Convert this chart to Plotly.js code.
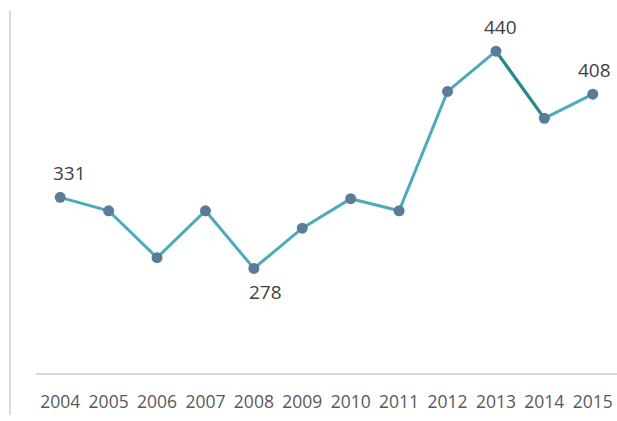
<!DOCTYPE html>
<html><head><meta charset="utf-8">
<script src="https://cdn.plot.ly/plotly-3.0.1.min.js"></script>
<style>html,body{margin:0;padding:0;background:#fff;}#c{width:617px;height:421px;}</style>
</head><body><div id="c"></div>
<script>
const years = ['2004','2005','2006','2007','2008','2009','2010','2011','2012','2013','2014','2015'];
const values = [331, 321, 286, 321, 278, 308, 330, 321, 410, 440, 390, 408];
const labeled = [true, false, false, false, true, false, false, false, false, true, false, true];
const labelBelow = [false, false, false, false, true, false, false, false, false, false, false, false];
const highlightYears = ['2013','2014'];
// label horizontal nudges (style only)
const labelXShift = [9, 0, 0, 0, 12, 0, 0, 0, 0, 5, 0, 2];

const hlVals = highlightYears.map(y => values[years.indexOf(y)]);

const font = "'Open Sans', 'DejaVu Sans', sans-serif";
const data = [
  {x: years, y: values, type:'scatter', mode:'lines', line:{color:'#4aacb8', width:3}, hoverinfo:'skip'},
  {x: highlightYears, y: hlVals, type:'scatter', mode:'lines', line:{color:'#2a8a8a', width:3}, hoverinfo:'skip'},
  {x: years, y: values, type:'scatter', mode:'markers', marker:{color:'#5b7c99', size:11}, cliponaxis:false}
];
const annotations = [];
years.forEach((yr,i)=>{
  if (labeled[i]) annotations.push({x:i, y:values[i], xref:'x', yref:'y', text:String(values[i]), showarrow:false,
    xshift: labelXShift[i], yshift: labelBelow[i] ? -24 : 24, font:{family:font, size:19, color:'#404040'}});
});
const layout = {
  width:617, height:421,
  margin:{l:36, r:0, t:11, b:48},
  paper_bgcolor:'#fff', plot_bgcolor:'#fff',
  showlegend:false,
  font:{family:font},
  annotations: annotations,
  xaxis:{type:'category', range:[-0.5, 11.5], showgrid:false, zeroline:false, showline:true, linecolor:'#d9d9d9', linewidth:2,
    ticks:'outside', ticklen:12, tickcolor:'rgba(0,0,0,0)', tickfont:{family:font, size:17.5, color:'#595959'}, automargin:false},
  yaxis:{range:[200,470], showgrid:false, zeroline:false, showline:false, showticklabels:false, ticks:''},
  shapes:[{type:'line', xref:'paper', yref:'paper', x0:-0.0447, x1:-0.0447, y0:-0.115, y1:1.0, line:{color:'#d9d9d9', width:2}}]
};
Plotly.newPlot('c', data, layout, {staticPlot:true});
</script></body></html>
